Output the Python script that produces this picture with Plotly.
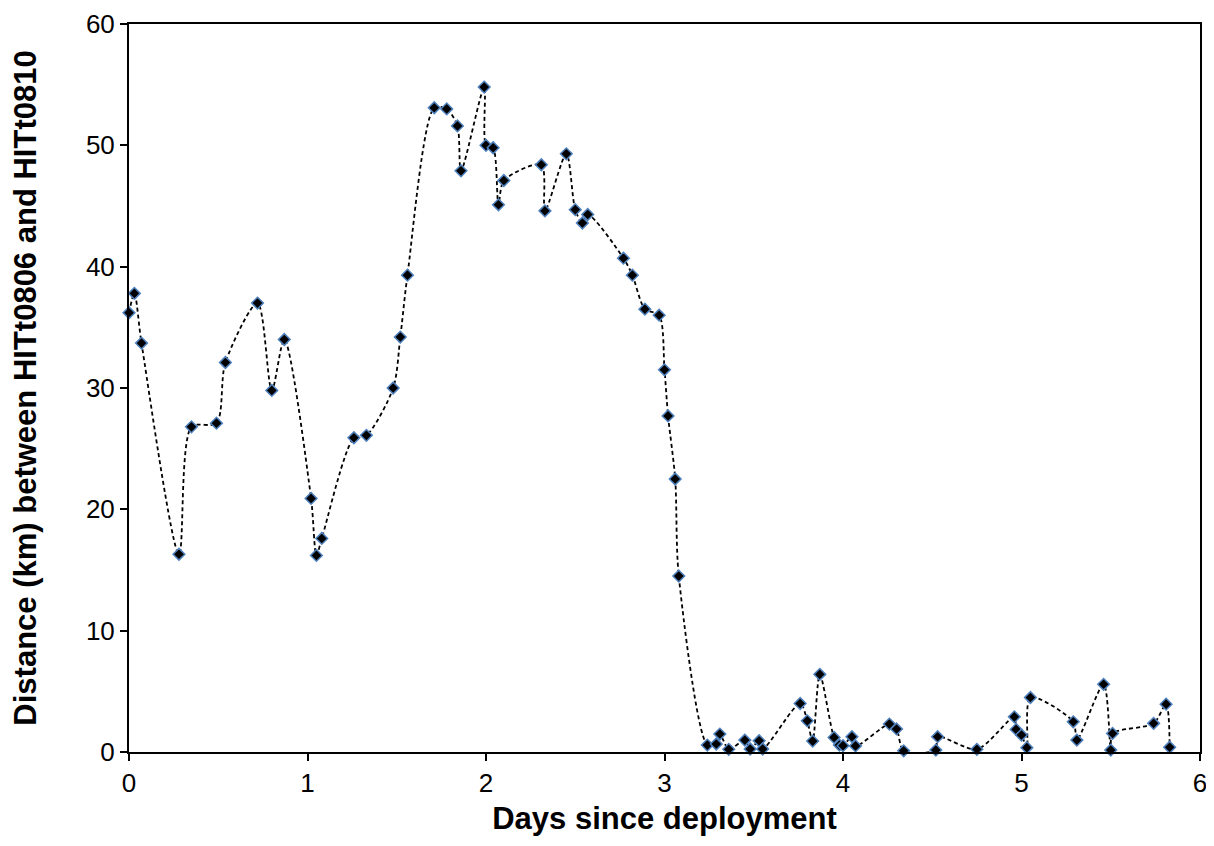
import plotly.graph_objects as go

days = [0.00, 0.03, 0.07, 0.28, 0.35, 0.49, 0.54, 0.72, 0.80, 0.87,
        1.02, 1.05, 1.08, 1.26, 1.33, 1.48, 1.52, 1.56, 1.71, 1.78,
        1.84, 1.86, 1.99, 2.00, 2.04, 2.07, 2.10, 2.31, 2.33, 2.45,
        2.50, 2.54, 2.57, 2.77, 2.82, 2.89, 2.97, 3.00, 3.02, 3.06,
        3.08, 3.24, 3.29, 3.31, 3.36, 3.45, 3.48, 3.53, 3.55, 3.76,
        3.80, 3.83, 3.87, 3.95, 3.98, 4.00, 4.05, 4.07, 4.26, 4.30,
        4.34, 4.52, 4.53, 4.75, 4.96, 4.97, 5.00, 5.03, 5.05, 5.29,
        5.31, 5.46, 5.50, 5.51, 5.74, 5.81, 5.83]

distance_km = [36.2, 37.8, 33.7, 16.3, 26.8, 27.1, 32.1, 37.0, 29.8, 34.0,
               20.9, 16.2, 17.6, 25.9, 26.1, 30.0, 34.2, 39.3, 53.1, 53.0,
               51.6, 47.9, 54.8, 50.0, 49.8, 45.1, 47.1, 48.4, 44.6, 49.3,
               44.7, 43.6, 44.3, 40.7, 39.3, 36.5, 36.0, 31.5, 27.7, 22.5,
               14.5, 0.57, 0.66, 1.48, 0.22, 0.98, 0.25, 0.93, 0.25, 4.0,
               2.57, 0.9, 6.4, 1.2, 0.57, 0.52, 1.26, 0.5, 2.3, 1.9,
               0.1, 0.16, 1.26, 0.22, 2.9, 1.86, 1.4, 0.36, 4.49, 2.49,
               0.98, 5.58, 0.16, 1.53, 2.36, 3.94, 0.39]

x_ticks = [0, 1, 2, 3, 4, 5, 6]
y_ticks = [0, 10, 20, 30, 40, 50, 60]

fig = go.Figure()
fig.add_trace(go.Scatter(
    x=days, y=distance_km,
    mode="lines+markers",
    line=dict(color="black", width=1.8, dash="4px,3px", shape="spline", smoothing=0.8),
    marker=dict(symbol="diamond", size=9, color="black",
                line=dict(color="#4F81BD", width=1.5)),
    cliponaxis=False,
    showlegend=False,
))

axis_font = dict(family="Liberation Sans, Arial, sans-serif", size=26, color="black")
title_font = dict(family="Liberation Sans, Arial, sans-serif", size=31, color="black")

fig.update_layout(
    width=1206, height=838,
    margin=dict(l=121, r=14, t=16, b=94),
    plot_bgcolor="white", paper_bgcolor="white",
    xaxis=dict(
        range=[0, 6], tickvals=x_ticks, ticktext=[str(v) for v in x_ticks],
        showgrid=False, zeroline=False, automargin=False, ticklabeloverflow="allow",
        showline=True, linecolor="black", linewidth=2, mirror=True,
        ticks="outside", ticklen=7, tickwidth=2, tickcolor="black",
        tickfont=axis_font,
        title=dict(text="<b>Days since deployment</b>", font=title_font, standoff=10),
    ),
    yaxis=dict(
        range=[0, 60], tickvals=y_ticks, ticktext=[str(v) for v in y_ticks],
        showgrid=False, zeroline=False, automargin=False, ticklabeloverflow="allow",
        showline=True, linecolor="black", linewidth=2, mirror=True,
        ticks="outside", ticklen=7, tickwidth=2, tickcolor="black",
        tickfont=axis_font,
        title=dict(text="<b>Distance (km) between HITt0806 and HITt0810</b>", font=title_font, standoff=45),
    ),
)

fig.write_html("out.html")
